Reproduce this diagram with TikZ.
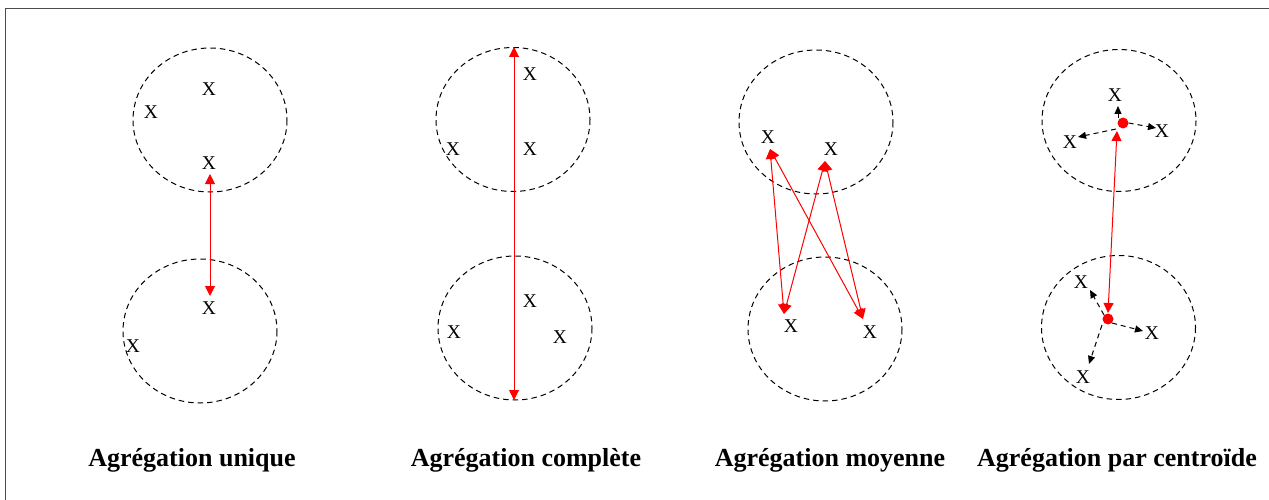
\documentclass[tikz,border=0pt]{standalone}
\usepackage{fontspec}
\setmainfont{Liberation Serif}
\usetikzlibrary{arrows.meta}
\begin{document}
\begin{tikzpicture}[x=1pt,y=-1pt,
  cluster/.style={draw=black, line width=1pt, dash pattern=on 5.5pt off 4pt},
  pt/.style={inner sep=0pt, font=\fontsize{19.5}{20}\selectfont},
  lab/.style={inner sep=0pt, anchor=base, font=\fontsize{26}{28}\selectfont\bfseries},
  link/.style={draw=red, line width=1pt, {Triangle[length=10pt,width=10pt]}-{Triangle[length=10pt,width=10pt]}},
  spoke/.style={draw=black, line width=1pt, dash pattern=on 5pt off 4pt, -{Triangle[length=8pt,width=7pt]}},
  cent/.style={circle, fill=red, inner sep=0pt, minimum size=11pt}]
\useasboundingbox (0,0) rectangle (1269,500);
% frame
\draw[draw=black!70, line width=1.5pt] (5.5,520) -- (5.5,8.5) -- (1290,8.5);

% ---------- Panel 1: single linkage
\draw[cluster] (210,120) ellipse [x radius=77, y radius=72];
\draw[cluster] (200,331) ellipse [x radius=77, y radius=72];
\node[pt] (a1) at (209,89) {X};
\node[pt] (a2) at (151,112) {X};
\node[pt] (a3) at (209,163) {X};
\node[pt] (a4) at (209,308) {X};
\node[pt] (a5) at (133,346) {X};
\coordinate (a3b) at (210,174);
\coordinate (a4t) at (210,296);
\draw[link] (a3b) -- (a4t);
\node[lab] (la) at (192,466) {Agrégation unique};

% ---------- Panel 2: complete linkage
\draw[cluster] (513,119.5) ellipse [x radius=77, y radius=72];
\draw[cluster] (515,328) ellipse [x radius=77, y radius=72];
\node[pt] (b1) at (530,74) {X};
\node[pt] (b2) at (453,149) {X};
\node[pt] (b3) at (530,149) {X};
\node[pt] (b4) at (530,301) {X};
\node[pt] (b5) at (454,332) {X};
\node[pt] (b6) at (560,337) {X};
\coordinate (bt) at (514,47);
\coordinate (bb) at (514,400);
\draw[link] (bt) -- (bb);
\node[lab] (lb) at (526,466) {Agrégation complète};

% ---------- Panel 3: average linkage
\draw[cluster] (816,122) ellipse [x radius=77, y radius=72];
\draw[cluster] (825,329) ellipse [x radius=77, y radius=72];
\node[pt] (c1) at (768,137) {X};
\node[pt] (c2) at (831,149) {X};
\node[pt] (c3) at (791,326) {X};
\node[pt] (c4) at (870,332) {X};
\coordinate (c1b) at (770,149);
\coordinate (c2b) at (825,161);
\coordinate (c3t) at (784,314);
\coordinate (c4t) at (863,319);
\draw[link] (c1b) -- (c3t);
\draw[link] (c1b) -- (c4t);
\draw[link] (c2b) -- (c3t);
\draw[link] (c2b) -- (c4t);
\node[lab] (lc) at (830,466) {Agrégation moyenne};

% ---------- Panel 4: centroid linkage
\draw[cluster] (1119,120.5) ellipse [x radius=77, y radius=71];
\draw[cluster] (1118.5,327.5) ellipse [x radius=77, y radius=72];
\node[pt] (d1) at (1115,95) {X};
\node[pt] (d2) at (1070,142) {X};
\node[pt] (d3) at (1162,131) {X};
\node[pt] (d4) at (1081,282) {X};
\node[pt] (d5) at (1152,333) {X};
\node[pt] (d6) at (1083,377) {X};
\node[cent] (g1) at (1123,123) {};
\node[cent] (g2) at (1108,319) {};
\coordinate (g1s) at (1116,129);
\coordinate (g1u) at (1118,118);
\coordinate (g2s) at (1102,325);
\draw[spoke] (g1u) -- (1118,106);
\draw[spoke] (g1s) -- (1078,137);
\draw[spoke] (g1.east) -- (1156,128);
\draw[spoke] (g2.north west) -- (1090,290);
\draw[spoke] (g2.south east) -- (1143,331);
\draw[spoke] (g2s) -- (1089,364);
\coordinate (g1b) at (1117,131);
\coordinate (g2t) at (1108,313);
\draw[link] (g1b) -- (g2t);
\node[lab] (ld) at (1117,466) {Agrégation par centroïde};
\end{tikzpicture}
\end{document}
